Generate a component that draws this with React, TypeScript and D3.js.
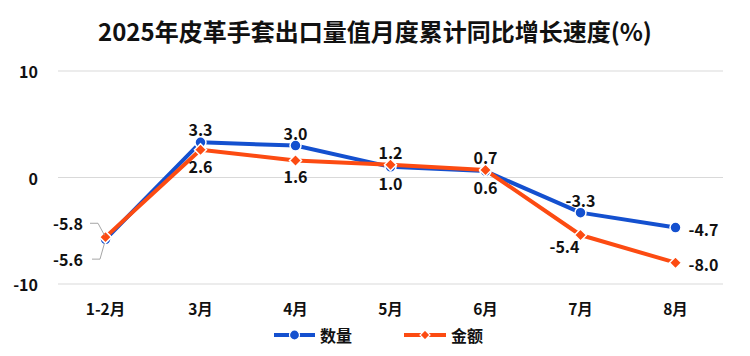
import React from "react";
import * as d3 from "d3";

const categories = ["1-2月", "3月", "4月", "5月", "6月", "7月", "8月"];
const quantity = [-5.8, 3.3, 3.0, 1.0, 0.6, -3.3, -4.7];
const amount = [-5.6, 2.6, 1.6, 1.2, 0.7, -5.4, -8.0];
const yTicks = [10, 0, -10];
const seriesNames = ["数量", "金额"];
const quantityLabelPos = ["leaderUp", "top", "top", "bottom", "bottom", "top", "right"];
const amountLabelPos = ["leaderDown", "bottom", "bottom", "top", "top", "bottomLeft", "right"];

const W = 750, H = 356;
const BLUE = "#1450CF";
const ORANGE = "#FC4B12";
const FONT = "'Noto Sans CJK SC', 'Noto Sans', sans-serif";

export default function App() {
  const x = d3.scaleBand<string>().domain(categories).range([58, 723]);
  const cx = (c: string) => (x(c) as number) + x.bandwidth() / 2;
  const y = d3.scaleLinear().domain([-10, 10]).range([284, 71]);
  const line = d3.line<number>().x((_, i) => cx(categories[i])).y((d) => y(d));

  const diamond = (px: number, py: number, r: number) =>
    `M${px},${py - r}L${px + r},${py}L${px},${py + r}L${px - r},${py}Z`;

  const labelAt = (v: number, i: number, pos: string) => {
    const px = cx(categories[i]);
    const py = y(v);
    switch (pos) {
      case "top": return { lx: px, ly: py - 13, anchor: "middle" };
      case "bottom": return { lx: px, ly: py + 16, anchor: "middle" };
      case "bottomLeft": return { lx: px - 16, ly: py + 11, anchor: "middle" };
      case "right": return { lx: px + 13, ly: py + 1, anchor: "start" };
      case "leaderUp": return { lx: 83, ly: py - 16, anchor: "end" };
      case "leaderDown": return { lx: 83, ly: py + 22, anchor: "end" };
    }
    return { lx: px, ly: py, anchor: "middle" };
  };

  const renderLabels = (vals: number[], poss: string[]) =>
    vals.map((v, i) => {
      const { lx, ly, anchor } = labelAt(v, i, poss[i]);
      const px = cx(categories[i]);
      const py = y(v);
      const leader =
        poss[i] === "leaderUp" ? (
          <polyline points={`${lx + 7},${ly} ${lx + 15},${ly} ${px - 1},${py - 4}`} fill="none" stroke="#A6A6A6" strokeWidth={1} />
        ) : poss[i] === "leaderDown" ? (
          <polyline points={`${lx + 9},${ly} ${lx + 17},${ly} ${px - 1},${py + 6}`} fill="none" stroke="#A6A6A6" strokeWidth={1} />
        ) : null;
      return (
        <g key={i}>
          {leader}
          <text x={lx} y={ly} textAnchor={anchor as any} dominantBaseline="central" fontSize={16} fontWeight="bold" fill="#111">
            {v.toFixed(1)}
          </text>
        </g>
      );
    });

  return (
    <svg width={W} height={H} style={{ position: "absolute", left: 0, top: 0, background: "#fff" }} fontFamily={FONT}>
      <rect width={W} height={H} fill="#fff" />
      <text x={375} y={30} textAnchor="middle" dominantBaseline="central" fontSize={24} fontWeight="bold" fill="#111">
        2025年皮革手套出口量值月度累计同比增长速度(%)
      </text>
      {yTicks.map((t) => (
        <g key={t}>
          <line x1={58} x2={723} y1={y(t)} y2={y(t)} stroke="#D9D9D9" strokeWidth={1.2} />
          <text x={38} y={y(t)} textAnchor="end" dominantBaseline="central" fontSize={16} fontWeight="bold" fill="#111">
            {t}
          </text>
        </g>
      ))}
      {categories.map((c) => (
        <text key={c} x={cx(c)} y={308} textAnchor="middle" dominantBaseline="central" fontSize={15.5} fontWeight="bold" fill="#111">
          {c}
        </text>
      ))}
      <path d={line(quantity) as string} fill="none" stroke={BLUE} strokeWidth={4} strokeLinejoin="round" />
      <path d={line(amount) as string} fill="none" stroke={ORANGE} strokeWidth={4} strokeLinejoin="round" />
      {quantity.map((v, i) => (
        <circle key={i} cx={cx(categories[i])} cy={y(v)} r={5.5} fill={BLUE} stroke="#fff" strokeWidth={1.5} />
      ))}
      {amount.map((v, i) => (
        <path key={i} d={diamond(cx(categories[i]), y(v), 6)} fill={ORANGE} stroke="#fff" strokeWidth={1.5} />
      ))}
      {renderLabels(quantity, quantityLabelPos)}
      {renderLabels(amount, amountLabelPos)}
      <g>
        <line x1={274} x2={315} y1={335} y2={335} stroke={BLUE} strokeWidth={4} />
        <circle cx={294.5} cy={335} r={5} fill={BLUE} stroke="#fff" strokeWidth={1.2} />
        <text x={320} y={335} dominantBaseline="central" fontSize={16} fontWeight="bold" fill="#111">{seriesNames[0]}</text>
        <line x1={404} x2={446} y1={335} y2={335} stroke={ORANGE} strokeWidth={4} />
        <path d={diamond(425, 335, 5)} fill={ORANGE} stroke="#fff" strokeWidth={1.2} />
        <text x={451} y={335} dominantBaseline="central" fontSize={16} fontWeight="bold" fill="#111">{seriesNames[1]}</text>
      </g>
    </svg>
  );
}
